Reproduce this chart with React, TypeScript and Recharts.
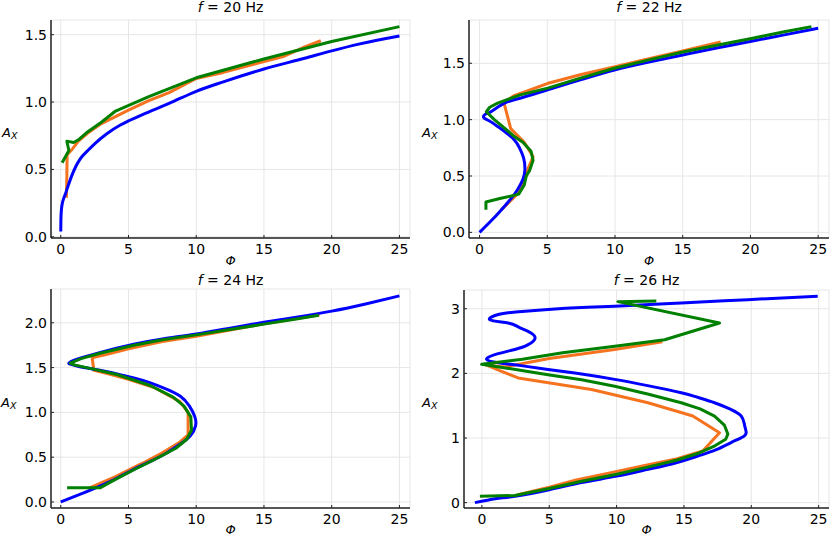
import React from "react";
import { CartesianGrid, Label, Line, LineChart, XAxis, YAxis } from "recharts";

// f = 20 Hz
const blue20X = [0, 0.01, 0.04, 0.1, 0.2, 0.35, 0.55, 0.8, 1.1, 1.45, 2, 2.5, 3.4, 4.4, 5, 6, 8, 10, 12, 15, 18, 20, 22, 25];
const blue20Y = [0.04, 0.12, 0.19, 0.24, 0.28, 0.32, 0.38, 0.45, 0.52, 0.58, 0.64, 0.69, 0.765, 0.83, 0.86, 0.905, 0.99, 1.08, 1.15, 1.245, 1.325, 1.38, 1.43, 1.49];
const orange20X = [0.42, 0.45, 0.47, 0.85, 1.3, 2, 3, 4, 5, 6.5, 8, 10, 12, 15, 16.5, 18, 19.2];
const orange20Y = [0.29, 0.45, 0.61, 0.65, 0.71, 0.77, 0.84, 0.89, 0.94, 1.01, 1.07, 1.175, 1.22, 1.3, 1.34, 1.41, 1.455];
const green20X = [0.1, 0.6, 0.45, 0.95, 1.3, 2, 3, 4, 6.5, 10, 15, 20, 25];
const green20Y = [0.55, 0.64, 0.71, 0.7, 0.72, 0.78, 0.85, 0.93, 1.04, 1.18, 1.32, 1.45, 1.56];

// f = 22 Hz
const blue22X = [0, 1.0, 1.83, 2.4, 2.81, 3.2, 3.35, 3.25, 2.95, 2.57, 1.9, 1.33, 0.7, 0.3, 0.45, 0.84, 1.83, 3, 5.03, 7.5, 9.96, 12.5, 15, 17.5, 20.07, 22.5, 25];
const blue22Y = [0, 0.12, 0.23, 0.31, 0.38, 0.47, 0.56, 0.66, 0.75, 0.82, 0.89, 0.94, 0.99, 1.02, 1.05, 1.07, 1.146, 1.19, 1.265, 1.355, 1.44, 1.51, 1.574, 1.635, 1.695, 1.752, 1.81];
const orange22X = [1.6, 2.2, 2.7, 3.3, 3.6, 3.95, 3.3, 2.3, 1.8, 2.5, 5, 7.5, 10, 12.5, 15, 17.8];
const orange22Y = [0.2, 0.27, 0.33, 0.45, 0.57, 0.67, 0.8, 0.92, 1.15, 1.21, 1.32, 1.4, 1.47, 1.54, 1.61, 1.69];
const green22X = [0.47, 0.47, 1.5, 2.6, 2.9, 3.3, 3.45, 3.7, 3.95, 3.8, 3.2, 2.57, 1.8, 1.09, 0.5, 0.75, 1.33, 3, 5.03, 7.5, 9.96, 12.5, 15, 17.5, 20.07, 22.5, 24.5];
const green22Y = [0.2, 0.27, 0.3, 0.33, 0.34, 0.42, 0.5, 0.55, 0.64, 0.72, 0.8, 0.85, 0.93, 1.0, 1.07, 1.11, 1.146, 1.22, 1.28, 1.37, 1.456, 1.53, 1.6, 1.66, 1.72, 1.78, 1.825];

// f = 24 Hz
const blue24X = [0, 1.5, 2.93, 4.2, 5.39, 6.7, 7.85, 8.8, 9.57, 9.95, 9.9, 9.5, 8.83, 7.8, 6.62, 5.4, 4.16, 2.9, 1.7, 0.9, 0.6, 1.21, 2.93, 5.39, 7.5, 10, 12.5, 15, 17.5, 20, 22.5, 25];
const blue24Y = [0, 0.09, 0.18, 0.27, 0.365, 0.46, 0.55, 0.645, 0.74, 0.85, 0.95, 1.07, 1.18, 1.26, 1.33, 1.385, 1.43, 1.47, 1.5, 1.53, 1.55, 1.594, 1.67, 1.76, 1.82, 1.874, 1.94, 2.005, 2.065, 2.13, 2.21, 2.3];
const orange24X = [2.0, 4, 6, 7.5, 8.8, 9.4, 9.4, 8.8, 7, 5, 3.5, 2.44, 2.32, 3.5, 5, 7.5, 10, 12.5, 15, 17.5, 19.1];
const orange24Y = [0.15, 0.28, 0.43, 0.55, 0.67, 0.75, 1.0, 1.12, 1.27, 1.37, 1.43, 1.47, 1.61, 1.65, 1.71, 1.79, 1.85, 1.92, 1.99, 2.05, 2.09];
const green24X = [0.47, 2.93, 4, 5.4, 7, 8.5, 9.3, 9.65, 9.6, 9.1, 8.3, 6.6, 4.2, 2.5, 1.0, 0.7, 1.5, 2.9, 5.4, 7.5, 10, 12.5, 15, 17.5, 19.05];
const green24Y = [0.16, 0.16, 0.25, 0.36, 0.48, 0.6, 0.7, 0.8, 0.95, 1.07, 1.17, 1.3, 1.42, 1.48, 1.53, 1.55, 1.6, 1.66, 1.75, 1.81, 1.865, 1.925, 1.985, 2.045, 2.085];

// f = 26 Hz
const blue26X = [-0.52, 1, 2.45, 5, 7.39, 10, 12.33, 14.3, 16.03, 17.4, 18.5, 19.4, 19.62, 19.5, 19.25, 18.4, 17.27, 16, 14.8, 12.3, 9.86, 7.4, 4.91, 2.9, 1.21, 0.35, 0.96, 2.45, 3.4, 3.95, 3.43, 2.7, 1.95, 0.59, 1.21, 2.5, 4.91, 7.4, 9.86, 14.8, 19.74, 24.93];
const blue26Y = [0, 0.06, 0.1, 0.2, 0.31, 0.41, 0.515, 0.61, 0.72, 0.82, 0.93, 1.02, 1.09, 1.2, 1.34, 1.45, 1.546, 1.63, 1.7, 1.81, 1.907, 1.99, 2.06, 2.12, 2.165, 2.216, 2.29, 2.37, 2.44, 2.55, 2.65, 2.72, 2.78, 2.83, 2.91, 2.95, 2.99, 3.02, 3.04, 3.09, 3.14, 3.195];
const orange26X = [2.6, 5, 7, 9.5, 12, 14.5, 16.4, 17.64, 15.66, 12.33, 8.13, 2.69, 1.6, 0.3, 1.7, 5, 9.86, 13.4];
const orange26Y = [0.12, 0.24, 0.35, 0.46, 0.57, 0.68, 0.8, 1.08, 1.34, 1.546, 1.75, 1.93, 2.02, 2.13, 2.1, 2.23, 2.37, 2.49];
const green26X = [-0.15, 2.45, 5, 7.4, 10, 12.3, 14.5, 16, 17.3, 18.1, 18.26, 18.0, 17.27, 16.2, 14.8, 12.3, 9.86, 7.4, 4.91, 2.5, -0.02, 3, 6, 9.86, 13.57, 17.64, 10.1, 12.95];
const green26Y = [0.1, 0.11, 0.22, 0.33, 0.44, 0.55, 0.66, 0.76, 0.88, 0.98, 1.06, 1.2, 1.34, 1.45, 1.546, 1.68, 1.8, 1.9, 1.98, 2.06, 2.14, 2.22, 2.32, 2.42, 2.52, 2.78, 3.11, 3.12];

const xTicks = [0, 5, 10, 15, 20, 25];

const BLUE = "#0000ff";
const ORANGE = "#f5731e";
const GREEN = "#008000";
const AXIS_COLOR = "#222";
const FONT = "DejaVu Sans";

type Pt = { x: number; y: number };
const pts = (xs: number[], ys: number[]): Pt[] => xs.map((x, i) => ({ x, y: ys[i] }));

interface PanelProps {
  left: number;
  top: number;
  title: string;
  titleY: number;
  axisW: number;
  rightM: number;
  topM: number;
  xAxisH: number;
  xDomain: [number, number];
  yDomain: [number, number];
  yTicks: number[];
  yDigits: number;
  labelX: number;
  blueCurve: "monotoneX" | "natural";
  blue: Pt[];
  orange: Pt[];
  green: Pt[];
}

function Panel(p: PanelProps) {
  const tickStyle = { fontSize: 14, fill: "#000", fontFamily: FONT };
  const line = (data: Pt[], color: string, key: string, curve: any = "linear") => (
    <Line
      key={key}
      data={data}
      dataKey="y"
      type={curve}
      stroke={color}
      strokeWidth={3}
      strokeLinejoin="round"
      strokeLinecap="butt"
      dot={false}
      activeDot={false}
      isAnimationActive={false}
    />
  );
  return (
    <div style={{ position: "absolute", left: p.left, top: p.top }}>
      <LineChart
        width={415}
        height={269}
        margin={{ top: p.topM, right: p.rightM, bottom: 0, left: 0 }}
      >
        <CartesianGrid stroke="#e6e6e6" strokeWidth={1} />
        <XAxis
          type="number"
          dataKey="x"
          domain={p.xDomain}
          allowDataOverflow
          ticks={xTicks}
          height={p.xAxisH}
          tick={tickStyle}
          tickSize={-3}
          tickMargin={9}
          stroke={AXIS_COLOR}
          axisLine={{ stroke: AXIS_COLOR, strokeWidth: 1.5 }}
          tickLine={{ stroke: AXIS_COLOR }}
        >
          <Label
            content={({ viewBox }: any) => (
              <text
                x={viewBox.x + viewBox.width / 2}
                y={viewBox.y + viewBox.height - 4}
                textAnchor="middle"
                fontFamily={FONT}
                fontStyle="italic"
                fontSize={13}
              >
                Φ
              </text>
            )}
          />
        </XAxis>
        <YAxis
          type="number"
          domain={p.yDomain}
          allowDataOverflow
          ticks={p.yTicks}
          width={p.axisW}
          tick={tickStyle}
          tickFormatter={(v: number) => v.toFixed(p.yDigits)}
          tickSize={-3}
          tickMargin={7}
          stroke={AXIS_COLOR}
          axisLine={{ stroke: AXIS_COLOR, strokeWidth: 1.5 }}
          tickLine={{ stroke: AXIS_COLOR }}
        >
          <Label
            content={({ viewBox }: any) => (
              <text
                x={p.labelX}
                y={viewBox.y + viewBox.height / 2 + 8}
                fontFamily={FONT}
                fontStyle="italic"
                fontSize={13}
              >
                A
                <tspan fontSize={9.5} dy={2}>
                  X
                </tspan>
              </text>
            )}
          />
        </YAxis>
        {line(p.orange, ORANGE, "o")}
        {line(p.blue, BLUE, "b", p.blueCurve)}
        {line(p.green, GREEN, "g")}
      </LineChart>
      <svg
        width={415}
        height={269}
        style={{ position: "absolute", left: 0, top: 0, pointerEvents: "none" }}
      >
        <text
          x={p.axisW + (415 - p.axisW - p.rightM) / 2}
          y={p.titleY}
          textAnchor="middle"
          fontFamily={FONT}
          fontSize={14}
        >
          <tspan fontStyle="italic">f</tspan> = {p.title}
        </text>
      </svg>
    </div>
  );
}

export default function App() {
  return (
    <div
      style={{
        position: "absolute",
        left: 0,
        top: 0,
        width: 830,
        height: 538,
        background: "#fff",
        overflow: "hidden",
      }}
    >
      <Panel
        left={0}
        top={0}
        title="20 Hz"
        titleY={12}
        axisW={51}
        rightM={5}
        topM={20}
        xAxisH={31}
        xDomain={[-0.72, 25.78]}
        yDomain={[-0.009, 1.609]}
        yTicks={[0, 0.5, 1, 1.5]}
        yDigits={1}
        labelX={2}
        blueCurve="monotoneX"
        blue={pts(blue20X, blue20Y)}
        orange={pts(orange20X, orange20Y)}
        green={pts(green20X, green20Y)}
      />
      <Panel
        left={415}
        top={0}
        title="22 Hz"
        titleY={12}
        axisW={54}
        rightM={1}
        topM={20}
        xAxisH={31}
        xDomain={[-0.78, 25.8]}
        yDomain={[-0.05, 1.884]}
        yTicks={[0, 0.5, 1, 1.5]}
        yDigits={1}
        labelX={7}
        blueCurve="natural"
        blue={pts(blue22X, blue22Y)}
        orange={pts(orange22X, orange22Y)}
        green={pts(green22X, green22Y)}
      />
      <Panel
        left={0}
        top={269}
        title="24 Hz"
        titleY={16}
        axisW={51}
        rightM={5}
        topM={20}
        xAxisH={30}
        xDomain={[-0.72, 25.78]}
        yDomain={[-0.067, 2.377]}
        yTicks={[0, 0.5, 1, 1.5, 2]}
        yDigits={1}
        labelX={1}
        blueCurve="natural"
        blue={pts(blue24X, blue24Y)}
        orange={pts(orange24X, orange24Y)}
        green={pts(green24X, green24Y)}
      />
      <Panel
        left={415}
        top={269}
        title="26 Hz"
        titleY={16}
        axisW={49}
        rightM={1}
        topM={21}
        xAxisH={30}
        xDomain={[-1.33, 25.77]}
        yDomain={[-0.083, 3.29]}
        yTicks={[0, 1, 2, 3]}
        yDigits={0}
        labelX={7}
        blueCurve="natural"
        blue={pts(blue26X, blue26Y)}
        orange={pts(orange26X, orange26Y)}
        green={pts(green26X, green26Y)}
      />
    </div>
  );
}
